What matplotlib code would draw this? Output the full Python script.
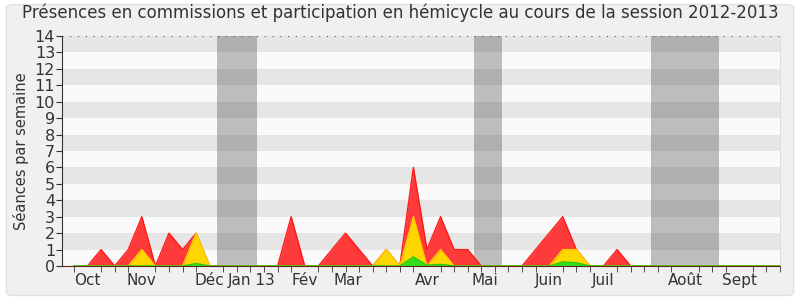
import numpy as np
import matplotlib
matplotlib.use("Agg")
import matplotlib.pyplot as plt
from matplotlib.patches import FancyBboxPatch

# one value per week, week 0 = first week of october 2012
weeks = np.arange(53)
presences = [0, 0, 1, 0, 1, 3, 0, 2, 1, 2, 0, 0, 0, 0, 0, 0, 3, 0, 0, 1,
             2, 1, 0, 1, 0, 6, 1, 3, 1, 1, 0, 0, 0, 0, 1, 2, 3, 1, 0, 0,
             1, 0, 0, 0, 0, 0, 0, 0, 0, 0, 0, 0, 0]
commissions = [0, 0, 0, 0, 0, 1, 0, 0, 0, 2, 0, 0, 0, 0, 0, 0, 0, 0, 0, 0,
               0, 0, 0, 1, 0, 3, 0, 1, 0, 0, 0, 0, 0, 0, 0, 0, 1, 1, 0, 0,
               0, 0, 0, 0, 0, 0, 0, 0, 0, 0, 0, 0, 0]
hemicycle = [0, 0, 0, 0, 0, 0, 0, 0, 0, 0.15, 0, 0, 0, 0, 0, 0, 0, 0, 0, 0,
             0, 0, 0, 0, 0, 0.55, 0.05, 0.1, 0, 0, 0, 0, 0, 0, 0, 0, 0.25, 0.2, 0, 0,
             0, 0, 0, 0, 0, 0, 0, 0, 0, 0, 0, 0, 0]

month_labels = ["Oct", "Nov", "Déc", "Jan 13", "Fév", "Mar", "Avr", "Mai",
                "Juin", "Juil", "Août", "Sept"]
month_pos = [1, 5, 10, 13.1, 17, 20.2, 26, 30.3, 35, 39, 45, 49]
vacances = [(10.5, 13.5), (29.5, 31.5), (42.5, 47.5)]

fig = plt.figure(figsize=(8, 3), dpi=100)
fig.patch.set_facecolor("white")
fig.patches.append(FancyBboxPatch((0.008, 0.015), 0.984, 0.97, boxstyle="round,pad=0,rounding_size=0.01",
                                  transform=fig.transFigure, facecolor="#f0f0f0",
                                  edgecolor="#e2e2e2", linewidth=1, zorder=-10))
ax = fig.add_axes([0.0775, 0.1133, 0.8975, 0.7667])
ax.set_facecolor("#fafafa")

xmin, xmax = -0.88, 52
for k in range(14):
    if k % 2 == 1:
        ax.axhspan(k, k + 1, color="#e6e6e6", lw=0, zorder=0)
for a, b in vacances:
    ax.axvspan(a, b, color="#323232", alpha=0.3, lw=0, zorder=1)
ax.axhline(14, color="#555555", ls=(0, (1, 6)), lw=0.8, zorder=1)

ax.fill_between(weeks, presences, color="#ff3a3a", lw=0, zorder=2)
ax.plot(weeks, presences, color="#ff1a1a", lw=1, zorder=3)
ax.fill_between(weeks, commissions, color="#ffd700", lw=0, zorder=4)
ax.plot(weeks, commissions, color="#ffcc00", lw=1, zorder=5)
ax.fill_between(weeks, hemicycle, color="#33dd22", lw=0, zorder=6)
ax.plot(weeks, hemicycle, color="#22cc11", lw=1, zorder=7)

ax.set_xlim(xmin, xmax)
ax.set_ylim(0, 14)
ax.set_yticks(range(15))
ax.set_xticks(month_pos)
ax.set_xticklabels(month_labels)
ax.set_xticks(weeks, minor=True)
ax.tick_params(axis="x", which="major", length=0, pad=5, labelsize=11, labelcolor="#333333")
ax.tick_params(axis="x", which="minor", length=4, direction="out", color="#333333")
ax.tick_params(axis="y", length=4, pad=1, labelsize=11.5, labelcolor="#333333", color="#333333")
ax.spines["top"].set_visible(False)
ax.spines["right"].set_color("#dddddd")
ax.spines["left"].set_color("#333333")
ax.spines["bottom"].set_color("#5a2a1a")
ax.spines["bottom"].set_zorder(9)

ax.set_ylabel("Séances par semaine", fontsize=10.5, color="#333333", labelpad=4)
fig.text(0.5, 0.958, "Présences en commissions et participation en hémicycle au cours de la session 2012-2013",
         ha="center", va="center", fontsize=12, color="#333333")

fig.savefig("out.png", dpi=100, facecolor=fig.get_facecolor())
